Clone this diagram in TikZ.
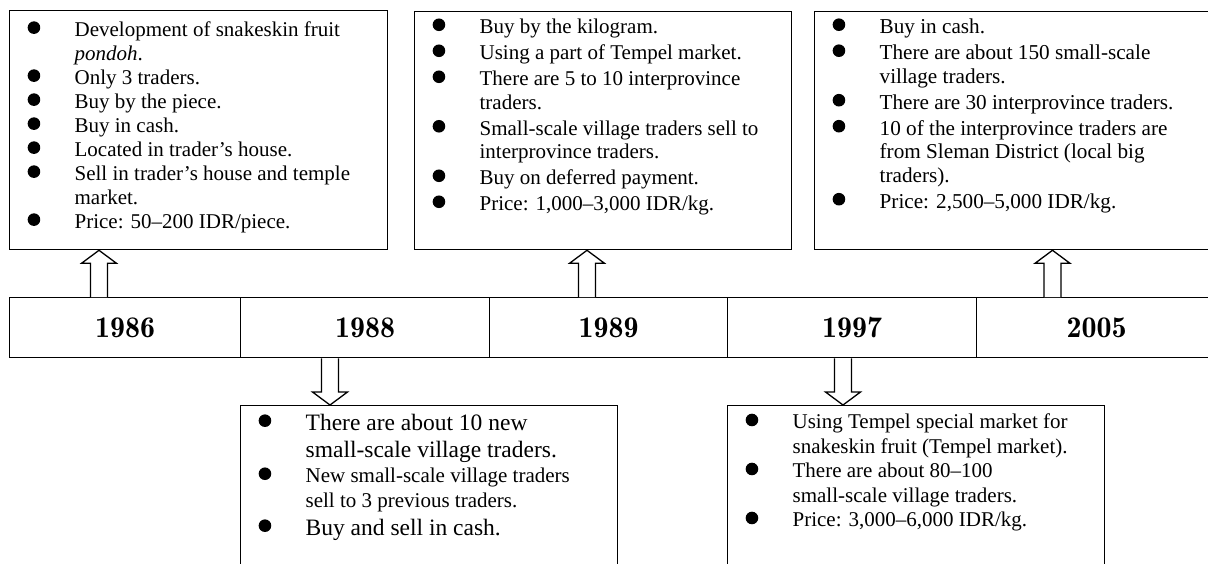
\documentclass[tikz,border=0pt]{standalone}
\usepackage{fontspec}
\usetikzlibrary{calc}
\newfontfamily\boxfont[Ligatures=TeX]{Liberation Serif}
\newfontfamily\yearfont{lmromandemi10-regular.otf}
\tikzset{cell/.style={draw, line width=1.3pt, anchor=north west, inner sep=0pt,
      minimum height=60pt, minimum width=#1, font=\yearfont\fontsize{30}{36}\selectfont},
  infobox/.style={draw, line width=1.3pt, anchor=north west, inner sep=0pt},
  hollow/.style={draw, fill=white, line width=1.3pt, line join=miter}}
\newcommand{\blt}{\tikz[baseline={(0pt,-0.42em)}]\fill (0pt,0pt) circle (6.3pt);}
\newcommand{\bitem}[1]{\par\hangindent=65pt\hangafter=1\noindent
  \makebox[65pt][l]{\hspace{18pt}\blt}\strut#1}
% block arrow from #1 to #2, both on one vertical line
\newcommand{\hollowarrow}[2]{%
  \draw[hollow] let \p1=(#1), \p2=(#2), \n1={sign(\y2-\y1)*13} in
    (\x1-8.5pt,\y1) -- (\x1-8.5pt,\y2-\n1*1pt) -- (\x1-17.5pt,\y2-\n1*1pt) -- (\x1,\y2)
    -- (\x1+17.5pt,\y2-\n1*1pt) -- (\x1+8.5pt,\y2-\n1*1pt) -- (\x1+8.5pt,\y1);}
\begin{document}
\begin{tikzpicture}[x=1pt,y=-1pt]
  \useasboundingbox (0,0) rectangle (1208,563);
  \clip (0,0) rectangle (1208,563);
  % time line
  \node[cell=231pt] (c1986) at (9,297) {1986};
  \node[cell=249pt] (c1988) at (240,297) {1988};
  \node[cell=238pt] (c1989) at (489,297) {1989};
  \node[cell=249pt] (c1997) at (727,297) {1997};
  \node[cell=240pt] (c2005) at (976,297) {2005};
  % boxes above
  \node[infobox] (b1986) at (9,10) {\parbox[c][239pt][t]{378pt}{\boxfont
    \fontsize{21}{24}\selectfont\raggedright\parskip=0pt\vspace*{9pt}
    \bitem{Development of snakeskin fruit\newline\textit{pondoh}.}
    \bitem{Only 3 traders.}
    \bitem{Buy by the piece.}
    \bitem{Buy in cash.}
    \bitem{Located in trader's house.}
    \bitem{Sell in trader's house and temple\newline market.}
    \bitem{Price: 50--200 IDR/piece.}}};
  \node[infobox] (b1989) at (414,11) {\parbox[c][238pt][t]{377pt}{\boxfont
    \fontsize{21}{23.5}\selectfont\raggedright\parskip=2.5pt\vspace*{3pt}
    \bitem{Buy by the kilogram.}
    \bitem{Using a part of Tempel market.}
    \bitem{There are 5 to 10 interprovince\newline traders.}
    \bitem{Small-scale village traders sell to\newline interprovince traders.}
    \bitem{Buy on deferred payment.}
    \bitem{Price: 1,000--3,000 IDR/kg.}}};
  \node[infobox] (b2005) at (814,11) {\parbox[c][238pt][t]{400pt}{\boxfont
    \fontsize{21.2}{23.5}\selectfont\raggedright\parskip=2.5pt\vspace*{3pt}
    \bitem{Buy in cash.}
    \bitem{There are about 150 small-scale\newline village traders.}
    \bitem{There are 30 interprovince traders.}
    \bitem{10 of the interprovince traders are\newline from Sleman District (local big\newline traders).}
    \bitem{Price: 2,500--5,000 IDR/kg.}}};
  % boxes below
  \node[infobox] (b1988) at (240,405) {\parbox[c][175pt][t]{377pt}{\boxfont
    \raggedright\parskip=0pt\vspace*{6pt}
    {\fontsize{23.5}{27}\selectfont\bitem{There are about 10 new\newline small-scale village traders.}\par}
    {\fontsize{21}{25}\selectfont\bitem{New small-scale village traders\newline sell to 3 previous traders.}\par}
    {\fontsize{23.5}{28}\selectfont\bitem{Buy and sell in cash.}\par}}};
  \node[infobox] (b1997) at (727,405) {\parbox[c][175pt][t]{377pt}{\boxfont
    \fontsize{21}{24.5}\selectfont\raggedright\parskip=0pt\vspace*{6pt}
    \bitem{Using Tempel special market for\newline snakeskin fruit (Tempel market).}
    \bitem{There are about 80--100\newline small-scale village traders.}
    \bitem{Price: 3,000--6,000 IDR/kg.}}};
  % arrows
  \coordinate (a1986) at (99,0);
  \coordinate (a1988) at (330,0);
  \coordinate (a1989) at (587,0);
  \coordinate (a1997) at (843,0);
  \coordinate (a2005) at (1052.5,0);
  \hollowarrow{a1986 |- c1986.north}{a1986 |- b1986.south}
  \hollowarrow{a1989 |- c1989.north}{a1989 |- b1989.south}
  \hollowarrow{a2005 |- c2005.north}{a2005 |- b2005.south}
  \hollowarrow{a1988 |- c1988.south}{a1988 |- b1988.north}
  \hollowarrow{a1997 |- c1997.south}{a1997 |- b1997.north}
\end{tikzpicture}
\end{document}
